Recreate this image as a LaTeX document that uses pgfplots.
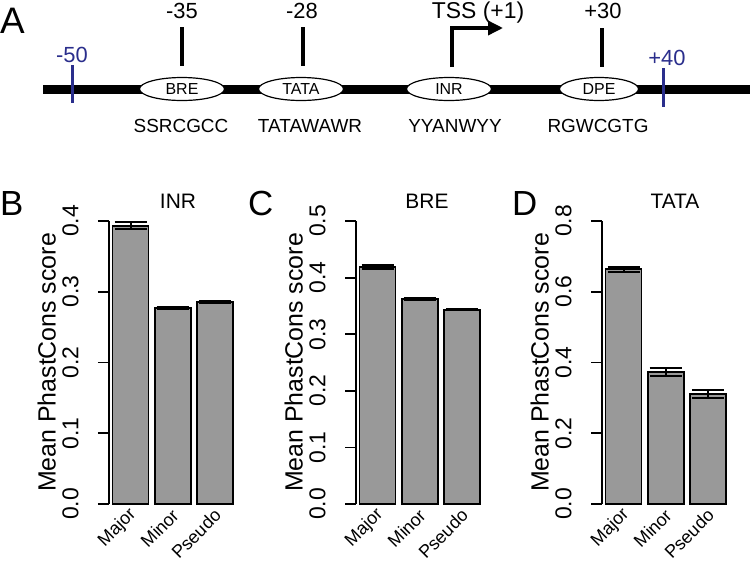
\documentclass[border=0pt]{standalone}
\usepackage{fontspec}
\setmainfont{Liberation Sans}
\usepackage{pgfplots}
\pgfplotsset{compat=1.18}
\usetikzlibrary{shapes.geometric, arrows.meta}
\definecolor{bargray}{HTML}{999999}
\definecolor{navyb}{HTML}{2A2E8C}
\newcommand{\fs}[1]{\fontsize{#1}{#1}\selectfont}
\pgfplotsset{
  barpanel/.style={
    scale only axis, width=127bp, height=283bp,
    xmin=0.49, xmax=3.5, ymin=0, clip=false,
    axis y line*=left, axis x line*=bottom,
    x axis line style={draw=none},
    y axis line style={line width=1.8bp, black},
    xtick={1,2,3}, xticklabels={\mbox{Major},\mbox{Minor},\mbox{Pseudo}},
    xtick style={draw=none},
    xticklabel style={rotate=45, anchor=east, font=\fs{18}, inner sep=1bp, xshift=5bp},
    ytick style={line width=1.8bp, black},
    tick align=outside, major tick length=11bp,
    yticklabel={\pgfmathprintnumber{\tick}\rule[-16bp]{0pt}{1bp}},
    yticklabel style={rotate=90, anchor=south, font=\fs{23},
      /pgf/number format/fixed, /pgf/number format/fixed zerofill,
      /pgf/number format/precision=1},
    /pgf/number format/assume math mode=true,
    ylabel={Mean PhastCons score},
    ylabel style={font=\fs{25}, at={(axis description cs:-0.49,0.5)}, anchor=center},
  },
  barplot/.style={ybar, bar width=36bp, bar shift=0pt, fill=bargray, draw=black, line width=1.8bp,
    error bars/.cd, y dir=both, y explicit,
    error bar style={line width=2bp, black},
    error mark options={line width=2bp, mark size=16bp, black, rotate=90}},
}
\begin{document}
\begin{tikzpicture}
\useasboundingbox (0,0) rectangle (750bp,-565bp);
% Panel A (and panel letters / titles) in pixel-like axis
\begin{axis}[at={(0,0)}, anchor=north west, scale only axis, width=750bp, height=565bp,
  xmin=0, xmax=750, ymin=0, ymax=565, y dir=reverse, axis lines=none, clip=false]
\addplot[black, line width=9bp] coordinates {(43,89) (750,89)};
\addplot[black, line width=3.5bp] coordinates {(182,27) (182,66)};
\addplot[black, line width=3.5bp] coordinates {(303,27) (303,66)};
\addplot[black, line width=3.5bp] coordinates {(602,28) (602,67)};
\addplot[black, line width=3.5bp, line join=miter, -{Triangle[length=15bp, width=14bp]}] coordinates {(452,67) (452,28) (503,28)};
\addplot[navyb, line width=3bp] coordinates {(72,65) (72,103)};
\addplot[navyb, line width=3bp] coordinates {(663,68) (663,107)};
\node[ellipse, draw=black, line width=1.2bp, fill=white, minimum width=85bp, minimum height=23bp, inner sep=0pt, font=\fs{16}] at (axis cs:182,89) {BRE};
\node[ellipse, draw=black, line width=1.2bp, fill=white, minimum width=85bp, minimum height=23bp, inner sep=0pt, font=\fs{16}] at (axis cs:301,89) {TATA};
\node[ellipse, draw=black, line width=1.2bp, fill=white, minimum width=85bp, minimum height=23bp, inner sep=0pt, font=\fs{16}] at (axis cs:449,89) {INR};
\node[ellipse, draw=black, line width=1.2bp, fill=white, minimum width=79bp, minimum height=23bp, inner sep=0pt, font=\fs{16}] at (axis cs:599,89) {DPE};
\node[anchor=base, inner sep=0pt, font=\fs{22}] at (axis cs:182,18) {-35};
\node[anchor=base, inner sep=0pt, font=\fs{22}] at (axis cs:302,18) {-28};
\node[anchor=base, inner sep=0pt, font=\fs{23}] at (axis cs:478,18) {TSS (+1)};
\node[anchor=base, inner sep=0pt, font=\fs{22}] at (axis cs:603,18) {+30};
\node[anchor=base, inner sep=0pt, font=\fs{22}, text=navyb] at (axis cs:72,62) {-50};
\node[anchor=base, inner sep=0pt, font=\fs{22}, text=navyb] at (axis cs:667,65) {+40};
\node[anchor=base, inner sep=0pt, font=\fs{19}] at (axis cs:181,132) {SSRCGCC};
\node[anchor=base, inner sep=0pt, font=\fs{19}] at (axis cs:310,132) {TATAWAWR};
\node[anchor=base, inner sep=0pt, font=\fs{19}] at (axis cs:455,132) {YYANWYY};
\node[anchor=base, inner sep=0pt, font=\fs{19}] at (axis cs:598,132) {RGWCGTG};
\node[anchor=base west, inner sep=0pt, font=\fs{37}] at (axis cs:0,33) {A};
\node[anchor=base west, inner sep=0pt, font=\fs{35}] at (axis cs:0,215) {B};
\node[anchor=base west, inner sep=0pt, font=\fs{35}] at (axis cs:248,215) {C};
\node[anchor=base west, inner sep=0pt, font=\fs{35}] at (axis cs:512,215) {D};
\node[anchor=base, inner sep=0pt, font=\fs{21}] at (axis cs:178,208) {INR};
\node[anchor=base, inner sep=0pt, font=\fs{21}] at (axis cs:427,208) {BRE};
\node[anchor=base, inner sep=0pt, font=\fs{21}] at (axis cs:675,208) {TATA};
\end{axis}
% Panel B
\begin{axis}[barpanel, at={(109bp,-504bp)}, anchor=south west, ymax=0.4, ytick={0,0.1,0.2,0.3,0.4}]
\addplot[barplot] coordinates {(1,0.393) +- (0,0.005) (2,0.277) +- (0,0.002) (3,0.285) +- (0,0.0015)};
\end{axis}
% Panel C
\begin{axis}[barpanel, at={(356bp,-504bp)}, anchor=south west, ymax=0.5, ytick={0,0.1,0.2,0.3,0.4,0.5}]
\addplot[barplot] coordinates {(1,0.419) +- (0,0.003) (2,0.362) +- (0,0.002) (3,0.343) +- (0,0.001)};
\end{axis}
% Panel D
\begin{axis}[barpanel, at={(602bp,-504bp)}, anchor=south west, ymax=0.8, ytick={0,0.2,0.4,0.6,0.8}]
\addplot[barplot] coordinates {(1,0.664) +- (0,0.007) (2,0.373) +- (0,0.012) (3,0.311) +- (0,0.010)};
\end{axis}
\end{tikzpicture}
\end{document}
